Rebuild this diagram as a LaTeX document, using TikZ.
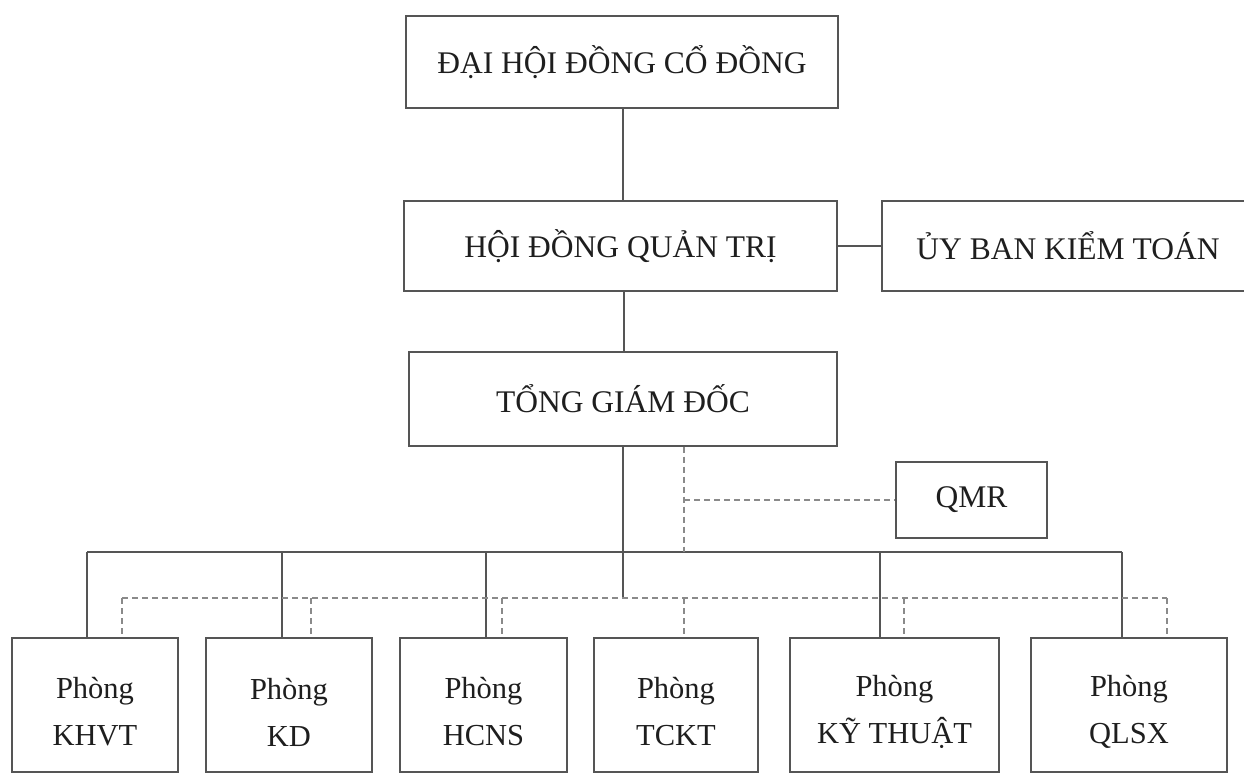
\documentclass[tikz,border=0pt]{standalone}
\usepackage{fontspec}
\setmainfont{Liberation Serif}
\usetikzlibrary{calc}
\definecolor{lineg}{HTML}{555555}
\definecolor{dashg}{HTML}{8A8A8A}
\definecolor{txt}{HTML}{1E1E1E}
\begin{document}
\begin{tikzpicture}[x=1pt,y=-1pt,
  box/.style={draw=lineg,line width=1.4pt,rectangle,inner sep=0pt,text=txt,
    font=\fontsize{31.5}{36}\selectfont,align=center},
  dbox/.style={draw=lineg,line width=1.4pt,rectangle,inner sep=0pt,minimum height=134pt},
  dtext/.style={inner sep=0pt,text=txt,align=center,font=\fontsize{30.5}{47}\selectfont},
  solidln/.style={draw=lineg,line width=1.4pt},
  dashln/.style={draw=dashg,line width=1.1pt,dash pattern=on 6pt off 4pt}]
\useasboundingbox (0,0) rectangle (1244,774);
\clip (0,0) rectangle (1244,774);
\fill[white] (0,0) rectangle (1244,774);
% top boxes
\node[box,minimum width=432pt,minimum height=92pt] (dhd) at (622,62) {ĐẠI HỘI ĐỒNG CỔ ĐỒNG};
\node[box,minimum width=433pt,minimum height=90pt] (hdqt) at (620.5,246) {HỘI ĐỒNG QUẢN TRỊ};
\node[box,minimum width=372pt,minimum height=90pt] (ubkt) at (1068,246) {ỦY BAN KIỂM TOÁN};
\node[box,minimum width=428pt,minimum height=94pt] (tgd) at (623,399) {TỔNG GIÁM ĐỐC};
\node[box,minimum width=151pt,minimum height=76pt] (qmr) at (971.5,500) {QMR};
% bottom boxes
\node[dbox,minimum width=166pt] (khvt) at (95,705) {};
\node[dbox,minimum width=166pt] (kd) at (289,705) {};
\node[dbox,minimum width=167pt] (hcns) at (483.5,705) {};
\node[dbox,minimum width=164pt] (tckt) at (676,705) {};
\node[dbox,minimum width=209pt] (kt) at (894.5,705) {};
\node[dbox,minimum width=196pt] (qlsx) at (1129,705) {};
\node[dtext] (khvtT) at ($(khvt.center)+(0,7)$) {Phòng\\KHVT};
\node[dtext] (kdT) at ($(kd.center)+(0,7)$) {Phòng\\KD};
\node[dtext] (hcnsT) at ($(hcns.center)+(0,7)$) {Phòng\\HCNS};
\node[dtext] (tcktT) at ($(tckt.center)+(0,7)$) {Phòng\\TCKT};
\node[dtext] (ktT) at ($(kt.center)+(0,7)$) {Phòng\\KỸ THUẬT};
\node[dtext] (qlsxT) at ($(qlsx.center)+(0,7)$) {Phòng\\QLSX};
% helper coordinates
\coordinate (busL) at (87,552);
\coordinate (busR) at (1122,552);
\coordinate (mainEnd) at (623,598);
\coordinate (dL) at (122,598);
\coordinate (dR) at (1167,598);
\coordinate (qmrBus) at (684,552);
% solid hierarchy
\draw[solidln] (dhd.south -| 623,0) -- (hdqt.north -| 623,0);
\draw[solidln] (hdqt.east) -- (ubkt.west);
\draw[solidln] (hdqt.south -| 624,0) -- (tgd.north -| 624,0);
\draw[solidln] (tgd.south -| 623,0) -- (mainEnd);
\draw[solidln] (busL) -- (busR);
\draw[solidln] (busL) -- (khvt.north -| busL);
\draw[solidln] (282,552) -- (kd.north -| 282,0);
\draw[solidln] (486,552) -- (hcns.north -| 486,0);
\draw[solidln] (880,552) -- (kt.north -| 880,0);
\draw[solidln] (busR) -- (qlsx.north -| busR);
% dashed (QMR) network
\draw[dashln] (tgd.south -| qmrBus) -- (qmrBus);
\draw[dashln] (qmr.west -| qmrBus) -- (qmr.west);
\draw[dashln] (dL) -- (dR);
\draw[dashln] (dL) -- (khvt.north -| dL);
\draw[dashln] (311,598) -- (kd.north -| 311,0);
\draw[dashln] (502,598) -- (hcns.north -| 502,0);
\draw[dashln] (684,598) -- (tckt.north -| 684,0);
\draw[dashln] (904,598) -- (kt.north -| 904,0);
\draw[dashln] (dR) -- (qlsx.north -| dR);
\end{tikzpicture}
\end{document}
